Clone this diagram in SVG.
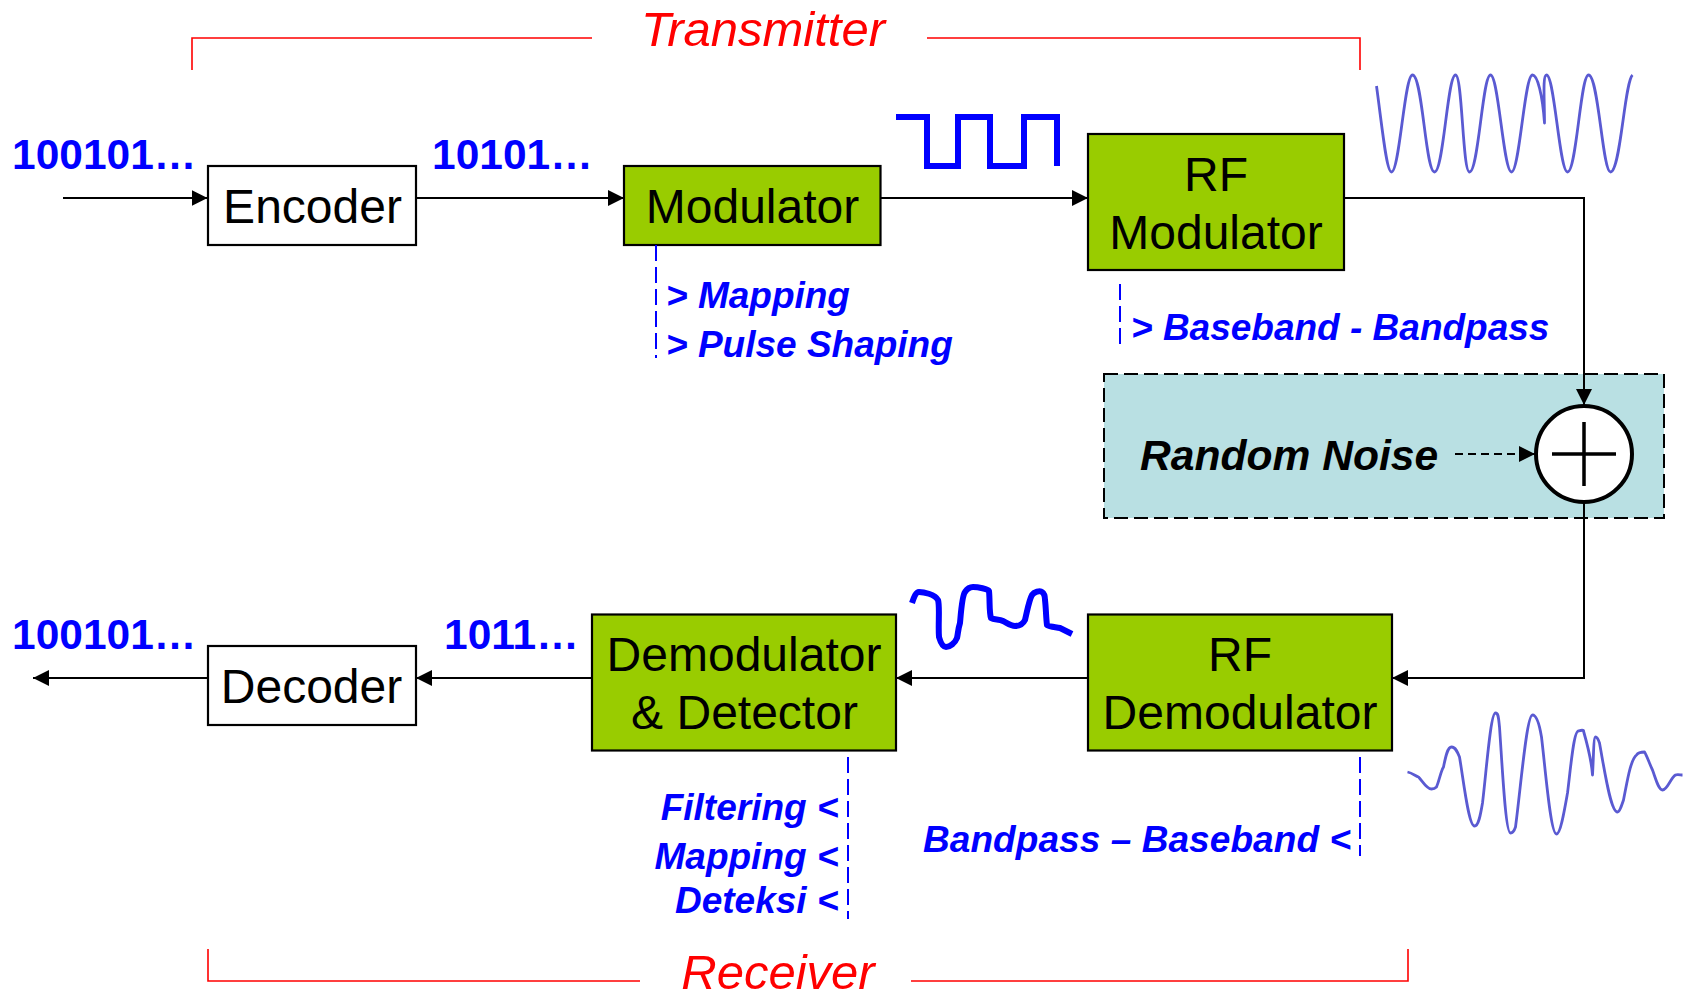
<svg xmlns="http://www.w3.org/2000/svg" width="1684" height="992" viewBox="0 0 1684 992">
<style>
text{font-family:"Liberation Sans",Arial,sans-serif}
.box{stroke:#000;stroke-width:2.2}
.g{fill:#99cc00}.w{fill:#fff}
.t{font-size:48px;fill:#000;text-anchor:middle}
.bin{font-size:42.500px;font-weight:bold;fill:#0000ff}
.note{font-size:37px;font-weight:bold;font-style:italic;fill:#0000ff}
.red{font-size:49px;font-style:italic;fill:#ff0000;text-anchor:middle}
.br{fill:none;stroke:#ff0000;stroke-width:1.6}
.dash{fill:none;stroke:#0000ff;stroke-width:2;stroke-dasharray:16 6}
.c{fill:none;stroke:#000;stroke-width:2;marker-end:url(#arr)}
.wave{fill:none;stroke:#5a5ad2;stroke-width:2.800;stroke-linejoin:round}
.sig{fill:none;stroke:#0000ff;stroke-width:6}
</style>
<defs>
<marker id="arr" markerUnits="userSpaceOnUse" markerWidth="17" markerHeight="16" refX="16" refY="8" orient="auto"><path d="M0 0L16 8L0 16Z" fill="#000"/></marker>
</defs>
<rect width="1684" height="992" fill="#fff"/>
<g id="noise-zone"><rect x="1104" y="374" width="560" height="144" fill="#b9e0e3" stroke="#000" stroke-width="2" stroke-dasharray="14 6"/>
<text x="1140" y="470" font-size="42.600" font-weight="bold" font-style="italic" fill="#000">Random Noise</text></g>
<g id="connectors">
<path class="c" d="M63 198H207.500"/>
<path class="c" d="M416 198H624"/>
<path class="c" d="M881 198H1088"/>
<path class="c" d="M1344 198H1584V405"/>
<path class="c" d="M1584 502V678H1392"/>
<path class="c" d="M1088 678H896"/>
<path class="c" d="M592 678H416"/>
<path class="c" d="M207 678H33"/>
<path class="c" stroke-dasharray="8 5" d="M1455 454H1535"/>
</g>
<g id="sum"><circle cx="1584" cy="454" r="48" fill="#fff" stroke="#000" stroke-width="4"/><path d="M1552 454H1616M1584 422V486" stroke="#000" stroke-width="3.500" fill="none"/></g>
<g id="encoder"><rect class="box w" x="208" y="166" width="208" height="79"/><text class="t" x="312.500" y="223">Encoder</text></g>
<g id="modulator"><rect class="box g" x="624" y="166" width="256.500" height="79"/><text class="t" x="752.500" y="223">Modulator</text></g>
<g id="rf-modulator"><rect class="box g" x="1088" y="134" width="256" height="136"/><text class="t" x="1216" y="191">RF</text><text class="t" x="1216" y="249">Modulator</text></g>
<g id="decoder"><rect class="box w" x="208" y="646" width="208" height="79"/><text class="t" x="311.500" y="703">Decoder</text></g>
<g id="demodulator"><rect class="box g" x="592" y="614.500" width="304" height="136"/><text class="t" x="744" y="671">Demodulator</text><text class="t" x="744.500" y="729">&amp; Detector</text></g>
<g id="rf-demodulator"><rect class="box g" x="1088" y="614.500" width="304" height="136"/><text class="t" x="1240" y="671">RF</text><text class="t" x="1240" y="729">Demodulator</text></g>
<g id="transmitter"><path class="br" d="M192 70V38H592M927 38H1360V70"/><text class="red" x="763" y="46">Transmitter</text></g>
<g id="receiver"><path class="br" d="M208 949V981H640M911 981H1408V949"/><text class="red" x="778" y="989">Receiver</text></g>
<g id="bits">
<text class="bin" x="12" y="169">100101…</text>
<text class="bin" x="432" y="169">10101…</text>
<text class="bin" x="12" y="649">100101…</text>
<text class="bin" x="444" y="649">1011…</text>
</g>
<g id="notes">
<path class="dash" d="M656 245V358M1120 284V344M848 757V919M1360 757V856"/>
<text class="note" x="666" y="308">&gt; Mapping</text>
<text class="note" x="666" y="357">&gt; Pulse Shaping</text>
<text class="note" x="1131" y="340">&gt; Baseband - Bandpass</text>
<text class="note" x="838.500" y="820" text-anchor="end">Filtering &lt;</text>
<text class="note" x="838.500" y="869" text-anchor="end">Mapping &lt;</text>
<text class="note" x="838.500" y="913" text-anchor="end">Deteksi &lt;</text>
<text class="note" x="1351" y="852" text-anchor="end" textLength="428">Bandpass – Baseband &lt;</text>
</g>
<g id="signals">
<path class="sig" d="M896 117H927V166H958V117H990V166H1024V117H1057V166"/>
<path class="sig" stroke-linejoin="round" stroke-linecap="butt" d="M912 603C914 597 916 592 919 592C923 592 935 594 938 600C940 606 938 625 939 637C941 644 943 647 946 647C950 647 955 643 957 638C958 634 958 629 960 623C961 612 962 596 965 592C967 589 970 587 973 587C978 587 988 589 989 591C990 600 989 612 991 618C994 620 999 619 1003 621C1007 623 1011 626 1015 626C1019 626 1023 624 1025 620C1027 612 1029 600 1032 595C1034 592 1040 590 1042 592C1045 594 1045 597 1045 600C1046 608 1046 618 1047 625C1050 627 1056 627 1060 628C1064 630 1068 632 1072 634"/>
<path class="wave" transform="translate(-1.500 0)" d="M1378 86C1384 130 1388 172 1393 172C1401 172 1406 75 1414 75C1424 75 1427 172 1436 172C1445 172 1449 75 1457 75C1464 75 1464 172 1471 172C1480 172 1484 75 1492 75C1500 75 1505 172 1513 172C1521 172 1526 75 1534 75C1539 75 1544 95 1546 123C1546 100 1544 75 1548 75C1556 75 1561 172 1569 172C1578 172 1582 75 1590 75C1600 75 1604 172 1612 172C1622 172 1626 82 1634 75"/>
<path class="wave" transform="translate(-1.500 0)" d="M1409 772C1414 773 1417 776 1420 777C1424 781 1428 789 1433 789C1436 789 1437 788 1438 787C1441 780 1442 772 1445 767C1447 757 1449 747 1453 747C1457 747 1459 752 1461 757C1465 780 1470 826 1476 826C1480 826 1482 815 1484 803C1488 770 1492 713 1497 713C1500 713 1500 718 1501 727C1504 770 1507 833 1512 833C1515 833 1516 830 1517 827C1522 790 1528 715 1534 715C1538 715 1541 725 1543 737C1547 770 1552 834 1558 834C1562 834 1566 810 1569 793C1572 770 1575 731 1580 731C1583 730 1585 730 1585 731C1589 745 1593 760 1594 775C1595 760 1595 737 1597 737C1599 737 1600 740 1601 743C1606 770 1612 812 1619 812C1621 812 1623 806 1625 800C1629 780 1632 760 1638 755C1640 752 1644 752 1646 752C1649 757 1651 764 1654 770C1657 778 1660 790 1664 790C1669 790 1672 778 1677 775C1679 774 1682 775 1684 775"/>
</g>
</svg>
